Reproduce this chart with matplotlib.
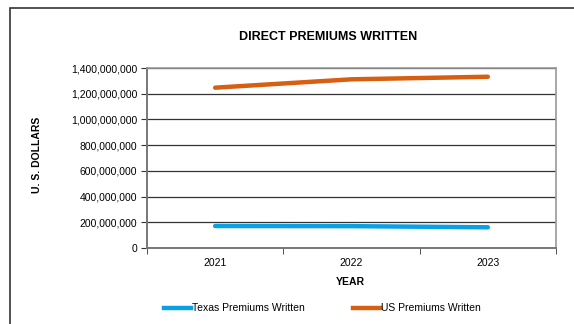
import matplotlib.pyplot as plt
from matplotlib.patches import Rectangle
from matplotlib.lines import Line2D
from matplotlib.ticker import FuncFormatter
import numpy as np

plt.rcParams['font.family'] = ['Liberation Sans', 'DejaVu Sans']

anos = ['2021', '2022', '2023']
texas = [171000000, 170000000, 161000000]
us = [1247000000, 1312000000, 1332000000]
nomes = ['Texas Premiums Written', 'US Premiums Written']
cores = ['#0AA0E6', '#D65F12']

W, H = 574, 324
fig = plt.figure(figsize=(W / 100, H / 100), dpi=100)
# moldura externa (sai pela direita e por baixo)
fig.patches.append(Rectangle((10/W, -0.05), 1.2, 1 - 8/H + 0.05, transform=fig.transFigure,
                             fill=False, edgecolor='#333333', linewidth=1.2))

ax = fig.add_axes([147/W, 1 - 248/H, (556 - 147)/W, (248 - 68)/H])
x = np.arange(len(anos))
ax.plot(x, texas, color=cores[0], linewidth=3.2, solid_capstyle='round')
ax.plot(x, us, color=cores[1], linewidth=3.2, solid_capstyle='round')

ax.set_xlim(-0.5, 2.5)
ax.set_ylim(0, 1400000000)
ax.set_yticks(np.arange(0, 1400000001, 200000000))
ax.yaxis.set_major_formatter(FuncFormatter(lambda v, p: f'{int(v):,}'))
ax.set_xticks(x)
ax.set_xticklabels(anos)
ax.set_xticks([-0.5, 0.5, 1.5, 2.5], minor=True)
ax.tick_params(axis='x', which='major', length=0, labelsize=7.5, pad=7)
ax.tick_params(axis='x', which='minor', length=4, color='#333333')
ax.tick_params(axis='y', length=4, labelsize=7.5, color='#333333', pad=3)
ax.grid(axis='y', color='#333333', linewidth=0.9)
ax.set_axisbelow(True)
for s in ['top', 'right']:
    ax.spines[s].set_color('#999999')
    ax.spines[s].set_linewidth(1.2)
for s in ['left', 'bottom']:
    ax.spines[s].set_color('#777777')
    ax.spines[s].set_linewidth(1.4)

fig.text(328/W, 1 - 37/H, 'DIRECT PREMIUMS WRITTEN', ha='center', va='center',
         fontsize=9, fontweight='bold')
fig.text(37/W, 1 - 155/H, 'U. S. DOLLARS', ha='center', va='center', rotation=90,
         fontsize=7.5, fontweight='bold')
fig.text(350/W, 1 - 282/H, 'YEAR', ha='center', va='center', fontsize=7.5, fontweight='bold')

# legenda desenhada à mão para acertar as posições
for x0, nome, cor in zip([164, 353], nomes, cores):
    fig.add_artist(Line2D([x0/W, (x0 + 27)/W], [1 - 308/H, 1 - 308/H], transform=fig.transFigure,
                          color=cor, linewidth=3.2))
    fig.text((x0 + 28)/W, 1 - 308/H, nome, ha='left', va='center', fontsize=7.5)

fig.savefig('out.png', dpi=100)
